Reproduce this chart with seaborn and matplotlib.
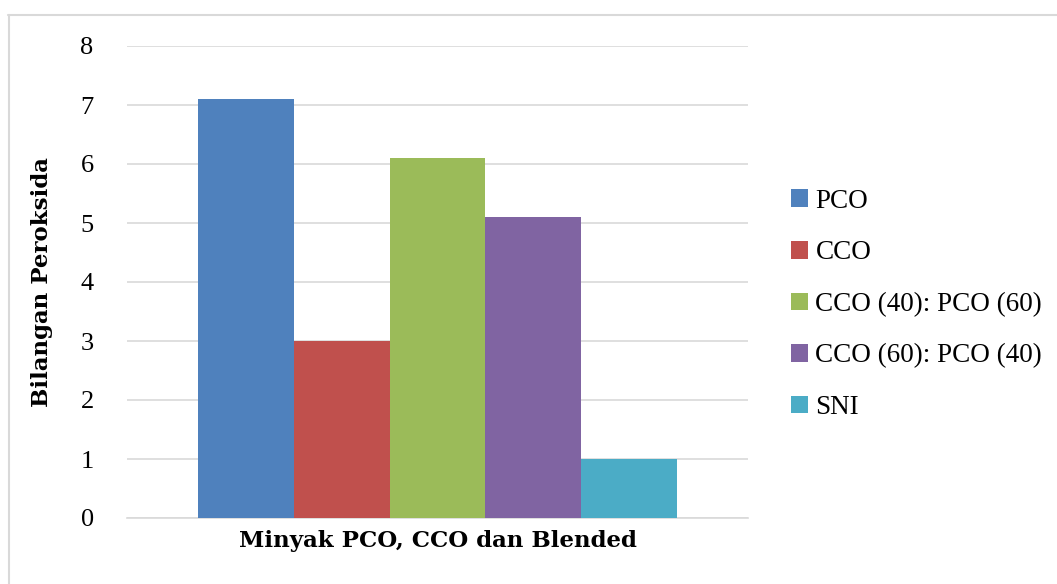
import matplotlib
matplotlib.use("Agg")
import matplotlib.pyplot as plt
import seaborn as sns
import pandas as pd
from matplotlib.lines import Line2D
from matplotlib.patches import Patch

category = ["Minyak PCO, CCO dan Blended"]
series = ["PCO", "CCO", "CCO (40): PCO (60)", "CCO (60): PCO (40)", "SNI"]
values = [7.1, 3.0, 6.1, 5.1, 1.0]
colors = ["#4f81bd", "#c0504d", "#9bbb59", "#8064a2", "#4bacc6"]
yticks = [0, 1, 2, 3, 4, 5, 6, 7, 8]

sns.set_theme(style="white")
plt.rcParams['font.family'] = ['Liberation Serif', 'DejaVu Serif']
plt.rcParams['text.color'] = 'black'
plt.rcParams['axes.labelcolor'] = 'black'
plt.rcParams['ytick.color'] = 'black'
plt.rcParams['xtick.color'] = 'black'

df = pd.DataFrame({"cat": category * len(series), "series": series, "val": values})

W, H = 1057, 584
fig = plt.figure(figsize=(W / 100, H / 100), dpi=100)
ax = fig.add_axes([127 / W, (H - 518) / H, (748 - 127) / W, (518 - 46) / H])

sns.barplot(data=df, x="cat", y="val", hue="series", hue_order=series,
            palette=colors, width=0.77, saturation=1, ax=ax, legend=False,
            linewidth=0, edgecolor="none", zorder=3)

ax.set_xlim(-0.5, 0.5)
ax.set_ylim(0, 8)
ax.set_yticks(yticks)
ax.set_yticklabels([str(t) for t in yticks], fontsize=19, color="black")
ax.set_xticks([])
ax.grid(axis="y", color="#d9d9d9", linewidth=1.2, zorder=0)
for s in ["top", "right", "left"]:
    ax.spines[s].set_visible(False)
ax.spines["bottom"].set_color("#d9d9d9")
ax.spines["bottom"].set_linewidth(1.2)
ax.tick_params(axis="y", length=0, pad=24)
ax.set_ylabel("Bilangan Peroksida", fontsize=16.5, fontweight="bold",
              family=["DejaVu Serif"], labelpad=20, color="black")
ax.set_xlabel("Minyak PCO, CCO dan Blended", fontsize=16.5, fontweight="bold",
              family=["DejaVu Serif"], labelpad=9, color="black")

handles = [Patch(facecolor=c, edgecolor="none") for c in colors]
leg = fig.legend(handles, series, loc="upper left", bbox_to_anchor=(780 / W, 1 - 178 / H),
                 frameon=False, fontsize=19.5, handlelength=0.63, handleheight=0.63,
                 handletextpad=0.28, labelspacing=0.98, borderaxespad=0)
for t in leg.get_texts():
    t.set_color("black")

# outer chart frame
fig.add_artist(Line2D([8 / W, 1.0], [1 - 14.5 / H, 1 - 14.5 / H], color="#d9d9d9", linewidth=1.5, transform=fig.transFigure))
fig.add_artist(Line2D([8.5 / W, 8.5 / W], [0, 1 - 14.5 / H], color="#d9d9d9", linewidth=1.5, transform=fig.transFigure))

fig.savefig("out.png", dpi=100)
